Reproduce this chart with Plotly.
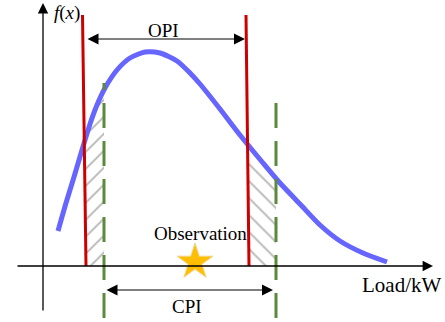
import numpy as np
import plotly.graph_objects as go

# schematic load pdf, origin at the axes crossing
load = [15, 23, 31, 39, 47, 54, 62, 74, 87, 102, 117, 134, 147, 157, 177, 197, 220, 237, 257, 277, 297, 320, 344]
density = [35, 63, 89, 116, 142, 161, 178, 196, 208, 214, 213, 205, 193, 182, 157, 131, 103, 83, 62, 41, 25, 13, 4]

opi_bottom = [43, 206]     # OPI bounds at the load axis
opi_top = [39.5, 203]      # red lines lean slightly
opi_height = 251
cpi = [61, 233]            # CPI bounds
cpi_height = [183, 164]
cpi_depth = -52
observation = 152

serif = "Liberation Serif, Times New Roman, serif"
fig = go.Figure()

# hatched tails between the two intervals
for lo, hi, shape in [(opi_bottom[0], cpi[0], "/"), (opi_bottom[1], cpi[1], "\\")]:
    xs = list(np.linspace(lo, hi, 10))
    ys = list(np.interp(xs, load, density))
    fig.add_trace(go.Scatter(x=xs + [hi, lo], y=ys + [0, 0], mode="none", fill="toself",
                             fillcolor="rgba(0,0,0,0)",
                             fillpattern=dict(shape=shape, fgcolor="#666666", bgcolor="rgba(0,0,0,0)",
                                              size=12, solidity=0.14),
                             hoverinfo="skip"))

fig.add_trace(go.Scatter(x=load, y=density, mode="lines",
                         line=dict(color="#6666ff", width=5, shape="spline", smoothing=0.7)))

for i in range(2):
    fig.add_trace(go.Scatter(x=[cpi[i], cpi[i]], y=[cpi_depth, cpi_height[i]], mode="lines",
                             line=dict(color="#5b8a3c", width=3, dash="25px,13px")))
    fig.add_trace(go.Scatter(x=[opi_bottom[i], opi_top[i]], y=[0, opi_height], mode="lines",
                             line=dict(color="#cc0000", width=3)))

fig.add_trace(go.Scatter(x=[observation], y=[4], mode="markers",
                         marker=dict(symbol="star", size=27, color="#ffbf00",
                                     line=dict(color="#f3d58a", width=1))))

arrow = dict(text="", showarrow=True, axref="x", ayref="y", arrowcolor="black",
             arrowhead=2, arrowsize=1.6, arrowwidth=1.3, standoff=0, startstandoff=0)
ann = [
    dict(arrow, x=0, y=263, ax=0, ay=-46),
    dict(arrow, x=390, y=0, ax=-27, ay=0),
    dict(arrow, x=opi_top[1] - 1, y=227, ax=opi_bottom[0], ay=227, arrowside="end+start", arrowwidth=1, arrowsize=2.2),
    dict(arrow, x=cpi[1] - 3, y=-24, ax=cpi[0] + 1, ay=-24, arrowside="end+start", arrowwidth=1, arrowsize=2.2),
]
txt = dict(showarrow=False, font=dict(family=serif, size=19, color="black"))
ann += [
    dict(txt, x=120, y=236, text="OPI"),
    dict(txt, x=144, y=-40, text="CPI"),
    dict(txt, x=157, y=33, text="Observation"),
    dict(txt, x=358, y=-19, text="Load/kW", font=dict(family=serif, size=21, color="black")),
    dict(txt, x=24, y=253, text="<i>f</i>(<i>x</i>)"),
]

fig.update_layout(width=445, height=322, margin=dict(l=0, r=0, t=0, b=0),
                  plot_bgcolor="white", paper_bgcolor="white", showlegend=False,
                  xaxis=dict(range=[-43, 402], visible=False),
                  yaxis=dict(range=[-56, 266], visible=False),
                  annotations=ann)
fig.write_html("out.html", config={"displayModeBar": False},
               post_script="document.body.style.margin='0';")
